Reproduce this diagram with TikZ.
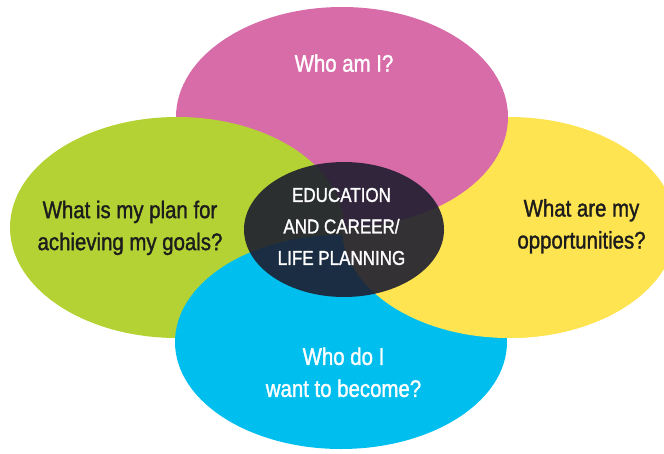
\documentclass[tikz,border=0pt]{standalone}
\usepackage{fontspec}
\setmainfont{Liberation Sans}[FakeStretch=0.85,FakeBold=1.3]
\begin{document}
\begin{tikzpicture}[x=1pt,y=-1pt]
  \definecolor{petalpink}{RGB}{216,108,168}
  \definecolor{petalgreen}{RGB}{180,210,52}
  \definecolor{petalyellow}{RGB}{254,228,80}
  \definecolor{petalblue}{RGB}{0,191,239}
  \definecolor{hubdark}{RGB}{30,30,48}
  \definecolor{textdark}{RGB}{28,28,28}
  \tikzset{
    question/.style={align=center,inner sep=0pt,font=\fontsize{24}{32}\selectfont},
    hubtext/.style={align=center,inner sep=0pt,text=white,font=\fontsize{20}{31.5}\selectfont},
  }
  \useasboundingbox (0,0) rectangle (664,453);
  \fill[petalyellow] (509,227.5) ellipse (167 and 110.5);
  \fill[petalpink] (342,117) ellipse (166 and 110);
  \fill[petalgreen] (177,227.5) ellipse (167 and 110.5);
  \fill[petalblue] (341,342) ellipse (166 and 107);
  \begin{scope}
    \clip (330,230) rectangle (680,453);
    \fill[petalyellow] (509,227.5) ellipse (167 and 110.5);
  \end{scope}
  \fill[hubdark,fill opacity=0.9] (344,229.5) ellipse (100 and 67.5);
  \node[question,text=white,anchor=base] (whoami) at (344,71.7) {Who am I?};
  \node[question,text=textdark] (plan) at (130,227.9) {What is my plan for\\achieving my goals?};
  \node[question,text=textdark] (chances) at (581.5,226.3) {What are my\\opportunities?};
  \node[question,text=white] (become) at (343.5,372.3) {Who do I\\want to become?};
  \node[hubtext] (hub) at (341.5,226.5) {EDUCATION\\AND CAREER/\\LIFE PLANNING};
\end{tikzpicture}
\end{document}
